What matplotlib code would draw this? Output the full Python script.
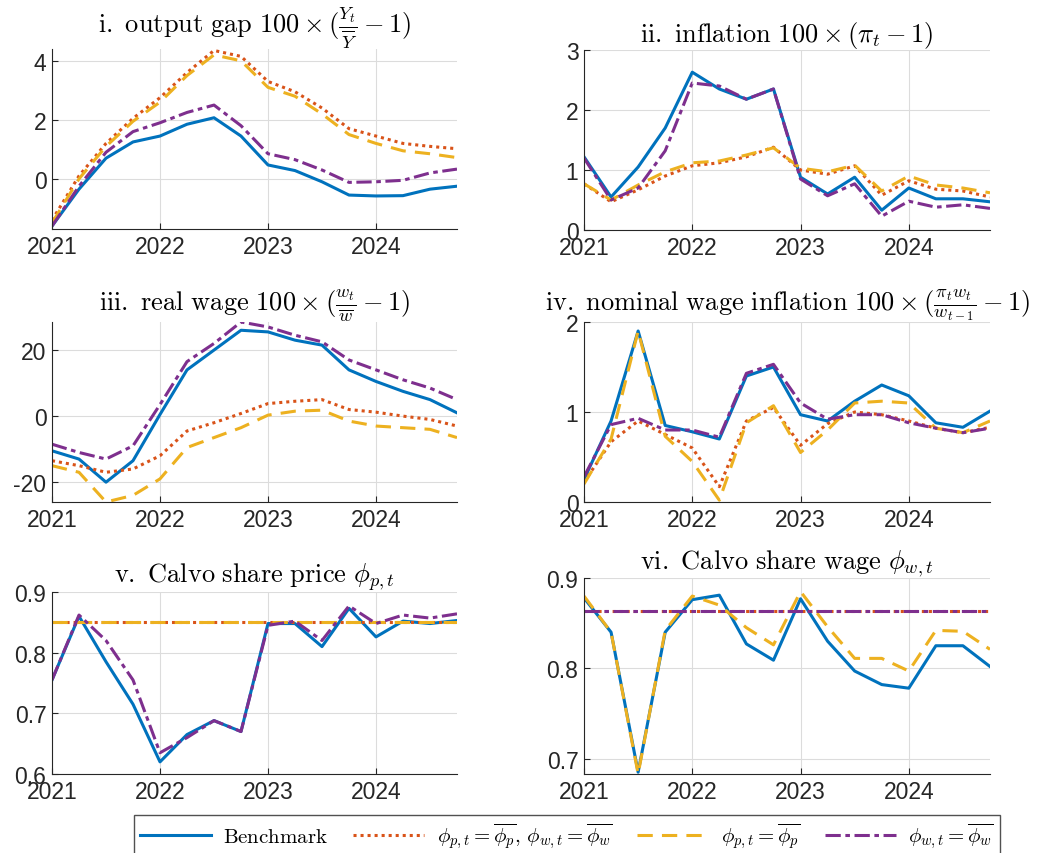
import matplotlib
matplotlib.use("Agg")
import matplotlib.pyplot as plt
import numpy as np

dates = 2021 + np.arange(16) * 0.25
years = [2021, 2022, 2023, 2024]

gap_bench = [-1.6, -0.35, 0.7, 1.25, 1.45, 1.85, 2.07, 1.45, 0.47, 0.28, -0.1, -0.55, -0.58, -0.57, -0.35, -0.25]
gap_both = [-1.4, 0.1, 1.2, 2.05, 2.75, 3.6, 4.35, 4.15, 3.3, 2.95, 2.4, 1.7, 1.45, 1.2, 1.1, 1.02]
gap_p = [-1.5, 0.0, 1.1, 1.95, 2.6, 3.5, 4.2, 4.0, 3.1, 2.8, 2.2, 1.5, 1.2, 0.95, 0.85, 0.72]
gap_w = [-1.6, -0.25, 0.9, 1.6, 1.9, 2.25, 2.5, 1.8, 0.85, 0.65, 0.3, -0.12, -0.1, -0.05, 0.2, 0.33]

inf_bench = [1.22, 0.55, 1.05, 1.7, 2.63, 2.35, 2.18, 2.35, 0.88, 0.6, 0.88, 0.33, 0.7, 0.52, 0.52, 0.47]
inf_both = [0.77, 0.47, 0.67, 0.9, 1.07, 1.12, 1.22, 1.38, 1.0, 0.93, 1.07, 0.58, 0.82, 0.68, 0.65, 0.55]
inf_p = [0.77, 0.5, 0.75, 0.97, 1.12, 1.15, 1.25, 1.37, 1.03, 0.97, 1.08, 0.65, 0.9, 0.75, 0.7, 0.62]
inf_w = [1.2, 0.5, 0.7, 1.32, 2.45, 2.4, 2.18, 2.35, 0.85, 0.57, 0.77, 0.23, 0.48, 0.38, 0.42, 0.36]

rw_bench = [-10.5, -13, -20, -13.5, 0.5, 14, 20, 26, 25.5, 23, 21.5, 14, 10.5, 7.5, 5, 1]
rw_both = [-13.5, -15, -17, -16, -12, -4.5, -2, 0.8, 3.8, 4.5, 5, 2, 1.2, 0, -1, -3]
rw_p = [-15, -17, -26, -24, -19, -9.5, -6.5, -3.5, 0.3, 1.5, 1.8, -1.5, -3, -3.5, -4, -6.5]
rw_w = [-8.5, -11, -13, -9, 3.5, 16.5, 22, 28.5, 27, 24.5, 22.5, 17, 14, 11, 8.5, 5]

nw_bench = [0.25, 0.9, 1.9, 0.85, 0.78, 0.7, 1.4, 1.5, 0.97, 0.9, 1.12, 1.3, 1.18, 0.88, 0.83, 1.01]
nw_both = [0.22, 0.67, 0.9, 0.75, 0.6, 0.17, 0.9, 1.05, 0.63, 0.87, 1.0, 0.97, 0.9, 0.82, 0.77, 0.83]
nw_p = [0.2, 0.7, 1.9, 0.73, 0.45, 0.02, 0.88, 1.07, 0.55, 0.8, 1.1, 1.12, 1.1, 0.82, 0.77, 0.9]
nw_w = [0.28, 0.86, 0.93, 0.8, 0.8, 0.72, 1.43, 1.53, 1.1, 0.92, 0.97, 0.97, 0.88, 0.82, 0.77, 0.82]

phip_bar = 0.85
phiw_bar = 0.864
cp_bench = [0.755, 0.86, 0.785, 0.715, 0.62, 0.665, 0.688, 0.67, 0.848, 0.848, 0.81, 0.873, 0.826, 0.852, 0.848, 0.853]
cp_w = [0.755, 0.862, 0.82, 0.755, 0.635, 0.66, 0.688, 0.67, 0.845, 0.852, 0.82, 0.877, 0.848, 0.862, 0.857, 0.864]
cw_bench = [0.878, 0.84, 0.685, 0.84, 0.876, 0.881, 0.827, 0.809, 0.877, 0.83, 0.797, 0.782, 0.778, 0.825, 0.825, 0.802]
cw_p = [0.88, 0.84, 0.683, 0.842, 0.88, 0.87, 0.845, 0.826, 0.885, 0.846, 0.811, 0.811, 0.797, 0.842, 0.841, 0.821]

C_B, C_O, C_Y, C_P = "#0072BD", "#D95319", "#EDB120", "#7E2F8E"
plt.rcParams["mathtext.fontset"] = "cm"
plt.rcParams["font.family"] = "Liberation Sans"

W, H = 1040, 854
fig = plt.figure(figsize=(W / 100, H / 100), dpi=100)

def mkax(x0, y0, x1, y1):
    return fig.add_axes([x0 / W, 1 - y1 / H, (x1 - x0) / W, (y1 - y0) / H])

def style(ax, ylim, yticks, ylabels, title):
    ax.set_xlim(2021, 2024.75)
    ax.set_ylim(*ylim)
    ax.set_xticks(years)
    ax.set_xticklabels([str(y) for y in years])
    ax.set_yticks(yticks)
    ax.set_yticklabels(ylabels)
    ax.grid(True, color="#dcdcdc", lw=0.8)
    ax.set_axisbelow(True)
    for s in ["top", "right"]:
        ax.spines[s].set_visible(False)
    for s in ["left", "bottom"]:
        ax.spines[s].set_color("#262626")
    ax.tick_params(labelsize=16.5, colors="#262626", direction="in", length=4, pad=4)
    ax.set_title(title, fontsize=19, pad=5)

def four(ax, b, o, y, p):
    ax.plot(dates, b, color=C_B, lw=2.2, ls="-")
    ax.plot(dates, o, color=C_O, lw=2.2, ls=(0, (1, 1.3)))
    ax.plot(dates, y, color=C_Y, lw=2.2, ls=(0, (5, 3)))
    ax.plot(dates, p, color=C_P, lw=2.2, ls=(0, (5, 1.5, 1.5, 1.5)))

ax = mkax(52, 50, 457, 230)
four(ax, gap_bench, gap_both, gap_p, gap_w)
style(ax, (-1.7, 4.4), [0, 2, 4], ["0", "2", "4"],
      r"$\mathrm{i.\ output\ gap\ }100\times(\frac{Y_t}{\overline{Y}}-1)$")

ax = mkax(584, 51, 990, 231)
four(ax, inf_bench, inf_both, inf_p, inf_w)
style(ax, (0, 3), [0, 1, 2, 3], ["0", "1", "2", "3"],
      r"$\mathrm{ii.\ inflation\ }100\times(\pi_t-1)$")

ax = mkax(52, 323, 457, 503)
four(ax, rw_bench, rw_both, rw_p, rw_w)
style(ax, (-26, 28.5), [-20, 0, 20], ["-20", "0", "20"],
      r"$\mathrm{iii.\ real\ wage\ }100\times(\frac{w_t}{\overline{w}}-1)$")

ax = mkax(584, 323, 990, 503)
four(ax, nw_bench, nw_both, nw_p, nw_w)
style(ax, (0, 2), [0, 1, 2], ["0", "1", "2"],
      r"$\mathrm{iv.\ nominal\ wage\ inflation\ }100\times(\frac{\pi_t w_t}{w_{t-1}}-1)$")

ax = mkax(52, 593, 457, 775)
four(ax, cp_bench, [phip_bar] * 16, [phip_bar] * 16, cp_w)
style(ax, (0.6, 0.9), [0.6, 0.7, 0.8, 0.9], ["0.6", "0.7", "0.8", "0.9"],
      r"$\mathrm{v.\ Calvo\ share\ price\ }\phi_{p,t}$")

ax = mkax(584, 579, 990, 775)
four(ax, cw_bench, [phiw_bar] * 16, cw_p, [phiw_bar] * 16)
style(ax, (0.683, 0.9), [0.7, 0.8, 0.9], ["0.7", "0.8", "0.9"],
      r"$\mathrm{vi.\ Calvo\ share\ wage\ }\phi_{w,t}$")

from matplotlib.lines import Line2D
handles = [
    Line2D([], [], color=C_B, lw=2.2, ls="-"),
    Line2D([], [], color=C_O, lw=2.2, ls=(0, (1, 1.3))),
    Line2D([], [], color=C_Y, lw=2.2, ls=(0, (5, 3))),
    Line2D([], [], color=C_P, lw=2.2, ls=(0, (5, 1.5, 1.5, 1.5))),
]
labels = [r"$\mathrm{Benchmark}$",
          r"$\phi_{p,t}=\overline{\phi_p},\,\phi_{w,t}=\overline{\phi_w}$",
          r"$\phi_{p,t}=\overline{\phi_p}$",
          r"$\phi_{w,t}=\overline{\phi_w}$"]
leg = fig.legend(handles, labels, loc="center", bbox_to_anchor=(567 / W, 1 - 837 / H),
                 ncol=4, fontsize=15, frameon=True, fancybox=False, edgecolor="#262626",
                 handlelength=3.4, columnspacing=1.2, handletextpad=0.6, borderpad=0.3)
leg.get_frame().set_linewidth(1.0)

fig.savefig("out.png", dpi=100)
